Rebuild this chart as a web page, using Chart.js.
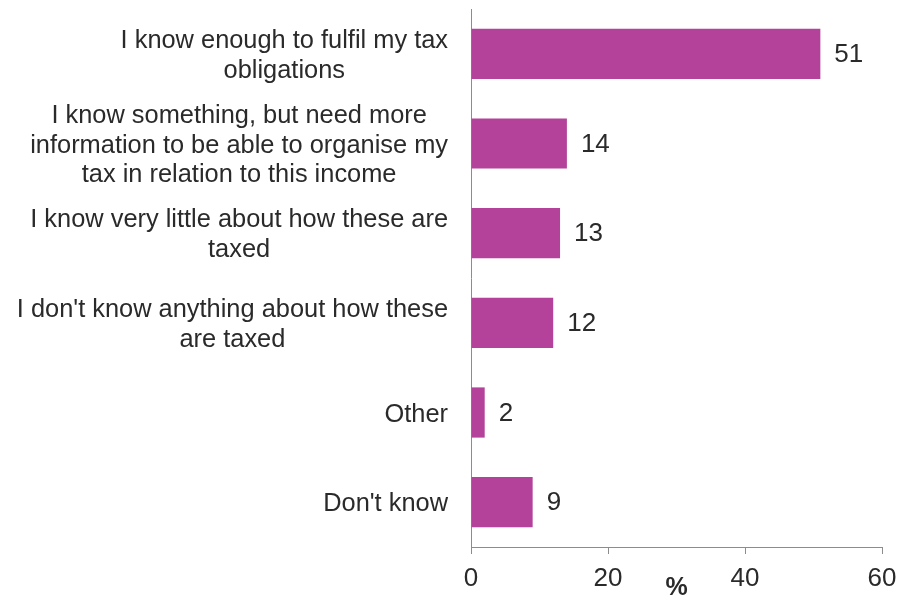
<!DOCTYPE html>
<html>
<head>
<meta charset="utf-8">
<script src="https://cdn.jsdelivr.net/npm/chart.js@4.4.1/dist/chart.umd.min.js"></script>
<style>
  html, body { margin: 0; padding: 0; background: #fff; }
  #wrap { width: 897px; height: 601px; }
</style>
</head>
<body>
<div id="wrap"><canvas id="taxChart"></canvas></div>
<script>
// answer options, one array of lines per option
const categories = [
    ['I know enough to fulfil my tax', 'obligations'],
    ['I know something, but need more', 'information to be able to organise my', 'tax in relation to this income'],
    ['I know very little about how these are', 'taxed'],
    ["I don't know anything about how these", 'are taxed'],
    ['Other'],
    ["Don't know"]
];
const percentages = [51, 14, 13, 12, 2, 9];
const xTicks = [0, 20, 40, 60];
const axisTitle = '%';

const barColor = '#b4429a';
const axisColor = '#8c8c8c';
const textColor = '#2a2a2a';
const fontFamily = '"Liberation Sans", Arial, sans-serif';

// category text is right aligned as a block, each line centred inside it;
// values go just past the end of each bar
const sideLabels = {
    id: 'sideLabels',
    afterDatasetsDraw(chart) {
        const ctx = chart.ctx;
        const yScale = chart.scales.y;
        const meta = chart.getDatasetMeta(0);
        ctx.save();
        ctx.fillStyle = textColor;
        ctx.textBaseline = 'middle';
        categories.forEach((lines, i) => {
            const cy = yScale.getPixelForTick(i) + 2;
            ctx.font = '25.4px ' + fontFamily;
            const widest = Math.max(...lines.map(l => ctx.measureText(l).width));
            const cx = yScale.right - 23 - widest / 2;
            ctx.textAlign = 'center';
            lines.forEach((line, j) => {
                ctx.fillText(line, cx, cy + (j - (lines.length - 1) / 2) * 29.5);
            });

            const bar = meta.data[i];
            ctx.font = '26px ' + fontFamily;
            ctx.textAlign = 'left';
            ctx.fillText(String(percentages[i]), bar.x + 14, bar.y + 1);
        });
        ctx.restore();
    }
};

const ctx = document.getElementById('taxChart').getContext('2d');
const taxChart = new Chart(ctx, {
    type: 'bar',
    data: {
        labels: categories,
        datasets: [{
            data: percentages,
            backgroundColor: barColor,
            borderWidth: 0,
            categoryPercentage: 1,
            barPercentage: 0.56
        }]
    },
    options: {
        indexAxis: 'y',
        responsive: true,
        maintainAspectRatio: false,
        animation: false,
        layout: { padding: { top: 9, right: 0, bottom: 0, left: 0 } },
        plugins: {
            legend: { display: false },
            tooltip: { enabled: false }
        },
        scales: {
            x: {
                min: 0,
                max: 60,
                afterBuildTicks: scale => {
                    scale.ticks = xTicks.map(v => ({ value: v }));
                },
                afterFit: scale => {
                    scale.height = 54;
                    scale.paddingRight = 15;
                },
                ticks: {
                    color: textColor,
                    font: { family: fontFamily, size: 26 },
                    padding: 9
                },
                grid: {
                    drawOnChartArea: false,
                    drawTicks: true,
                    tickLength: 7,
                    color: axisColor
                },
                border: { color: axisColor, width: 1 },
                title: {
                    display: true,
                    text: axisTitle,
                    color: textColor,
                    font: { family: fontFamily, size: 25, weight: 'bold' },
                    padding: { top: 0, bottom: -2 }
                }
            },
            y: {
                afterFit: scale => { scale.width = 471; },
                ticks: { display: false },
                grid: { display: false },
                border: { color: axisColor, width: 1 }
            }
        }
    },
    plugins: [sideLabels]
});
</script>
</body>
</html>
